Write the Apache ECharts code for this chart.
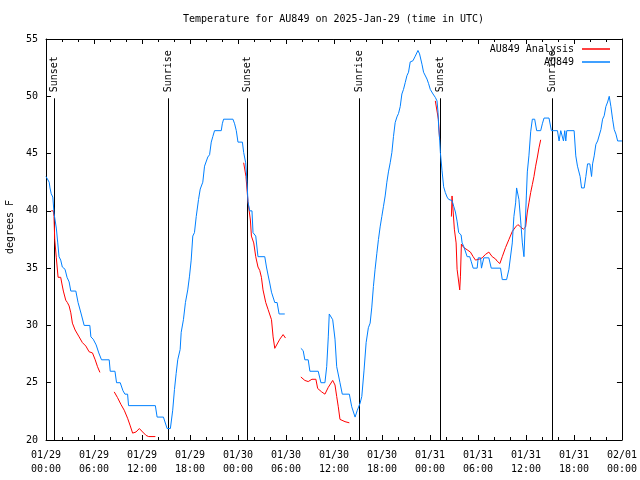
<!DOCTYPE html>
<html>
<head>
<meta charset="utf-8">
<script src="https://cdn.jsdelivr.net/npm/echarts@6/dist/echarts.min.js"></script>
<style>
html,body{margin:0;padding:0;background:#fff;}
#chart{width:640px;height:480px;}
</style>
</head>
<body>
<div id="chart"></div>
<script>
// ---- data (hours since 2025-01-29 00:00 UTC, degrees F) ----
const titleText = 'Temperature for AU849 on 2025-Jan-29 (time in UTC)';
const yAxisName = 'degrees F';
const seriesNames = ['AU849 Analysis', 'AU849'];

const sunHours = [1.05, 15.22, 25.13, 39.19, 49.2, 63.27];
const sunLabels = ['Sunset', 'Sunrise', 'Sunset', 'Sunrise', 'Sunset', 'Sunrise'];

const blueSeg1 = [
[0.0,43],[0.25,43],[0.4,42.5],[0.5,42],[0.65,41.5],[0.85,41.2],[0.92,40.6],[1.0,39.8],[1.13,39.7],[1.29,38.5],[1.47,37.2],[1.63,36],[1.84,35.7],[2.04,35.1],[2.38,34.9],[2.63,34.2],[2.89,33.8],[3.10,33],[3.73,33],[4.01,32],[4.4,31],[4.64,31],[4.77,30],[5.48,30],[5.61,29],[5.9,28.8],[6.27,28.3],[6.6,27.6],[6.94,27],[7.90,27],[8.03,26],[8.62,26],[8.82,25],[9.28,25],[9.62,24.3],[9.87,24],[10.20,24],[10.32,23],[13.67,23],[13.89,22],[14.68,22],[15.14,21],[15.55,21],[15.84,22.6],[16.06,24.4],[16.27,25.8],[16.47,27],[16.77,27.9],[16.9,29.4],[17.18,30.5],[17.43,32],[17.72,33.1],[17.94,34.3],[18.15,35.7],[18.35,37.8],[18.56,38.1],[18.78,39.5],[19.07,41],[19.28,41.9],[19.6,42.5],[19.82,43.9],[20.23,44.7],[20.45,44.9],[20.66,46],[20.86,46.5],[21.07,47],[21.91,47],[22.04,47.6],[22.2,48],[23.37,48],[23.58,47.6],[23.79,47],[24.0,46],[24.55,46],[24.71,45.1],[24.96,44.2],[25.13,42.5],[25.25,40.8],[25.46,40],[25.75,40],[25.88,38.1],[26.22,37.8],[26.5,36],[27.35,36],[27.56,35.1],[27.76,34.4],[27.97,33.7],[28.19,32.9],[28.6,32],[28.89,32],[29.14,31],[29.85,31]
];
const blueSeg2 = [
[31.86,28],[32.15,27.8],[32.36,27],[32.78,27],[32.99,26],[34.03,26],[34.37,25],[34.87,25],[35.09,26.4],[35.29,29],[35.41,31],[35.62,31],[35.84,30.5],[36.13,28.8],[36.34,26.4],[36.75,25],[37.04,24],[37.92,24],[38.22,22.9],[38.64,22],[38.92,22.6],[39.26,23.2],[39.48,23.8],[39.76,26.1],[40.02,28.5],[40.3,29.8],[40.52,30.2],[40.73,31.6],[40.93,33.4],[41.14,34.9],[41.36,36.3],[41.56,37.5],[41.77,38.6],[41.98,39.5],[42.19,40.4],[42.4,41.3],[42.61,42.5],[42.81,43.4],[43.03,44.2],[43.24,45.1],[43.44,46.5],[43.65,47.7],[43.87,48.2],[44.07,48.5],[44.28,49.1],[44.49,50.2],[44.69,50.6],[44.91,51.2],[45.12,51.8],[45.32,52.1],[45.53,53],[45.87,53.1],[46.16,53.5],[46.5,54],[46.7,53.7],[47.0,52.8],[47.2,52.1],[47.63,51.5],[47.83,51.1],[48.04,50.6],[48.38,50.2],[48.67,49.9],[48.88,49.6],[49.01,48.6],[49.08,47.4],[49.21,46.2],[49.3,45.1],[49.51,43.5],[49.71,42.1],[49.92,41.6],[50.14,41.2],[50.34,41],[50.76,40.9],[50.97,40.4],[51.18,39.9],[51.39,39.1],[51.59,38.1],[51.89,37.9],[52.02,37.2],[52.22,36.9],[52.65,36],[52.97,36],[53.15,35.6],[53.4,35],[53.9,35],[54.03,35.9],[54.32,35.9],[54.44,35],[54.73,35.9],[55.36,35.9],[55.66,35],[56.82,35],[57.04,34],[57.58,34],[57.87,34.9],[58.08,35],[58.29,37.2],[58.49,39.5],[58.71,40.7],[58.83,42],[59.0,42],[59.12,41],[59.33,39.2],[59.55,37.2],[59.75,36],[59.87,36],[60.05,41.3],[60.17,43.4],[60.37,44.8],[60.59,46.9],[60.8,48],[61.09,48],[61.34,47],[61.84,47],[62.05,47.6],[62.26,48.1],[62.88,48.1],[63.18,47],[63.94,47],[64.14,46.1],[64.35,47],[64.56,47],[64.69,46.1],[64.85,47],[64.98,46.1],[65.1,47],[66.02,47],[66.23,44.8],[66.44,43.9],[66.77,43],[66.95,42],[67.28,42],[67.49,43],[67.7,44.1],[67.99,44.1],[68.2,43],[68.33,44.1],[68.53,44.8],[68.74,45.8],[68.96,46.1],[69.2,46.1],[69.37,47.1],[69.58,48],[69.78,48.3],[69.99,49.1],[70.21,49.5],[70.41,50],[70.62,49.1],[70.83,48],[71.03,47.1],[71.25,46.7],[71.46,46.1],[72,46.1]
];

const redSeg1 = [[0.66,40],[0.92,40],[1.0,39.5],[1.09,37.5],[1.29,35.9],[1.51,34.2],[1.84,34.2],[1.97,33.7],[2.17,33],[2.47,32.2],[2.67,32],[2.89,31.7],[3.1,31.1],[3.3,30.2],[3.64,29.6],[4.14,29],[4.55,28.5],[4.98,28.2],[5.39,27.7],[5.81,27.6],[6.15,27],[6.44,26.4],[6.74,25.9]];
const redSeg2 = [[8.53,24.2],[8.94,23.7],[9.37,23.1],[9.78,22.6],[10.2,21.9],[10.5,21.3],[10.83,20.6],[11.25,20.7],[11.67,21],[12.08,20.7],[12.51,20.4],[12.83,20.3],[13.67,20.3]];
const redSeg3 = [[24.71,44.2],[24.85,44.1],[24.96,44.3],[25.0,43],[25.25,40.8],[25.55,39.2],[25.68,37.8],[25.97,37.2],[26.22,36],[26.5,35.1],[26.72,34.8],[26.93,34.2],[27.13,33.1],[27.47,32],[27.63,32],[27.76,31.4],[28.19,30.5],[28.39,29],[28.6,28],[28.72,28],[29.23,28.8],[29.64,29.2],[29.94,28.9]];
const redSeg4 = [[31.86,25.5],[32.36,25.2],[32.78,25.1],[33.24,25.3],[33.74,25.3],[33.96,24.5],[34.46,24.2],[34.87,24],[35.29,24.6],[35.84,25.2],[36.13,24.8],[36.34,23.8],[36.54,22.9],[36.75,21.8],[37.38,21.6],[37.92,21.5]];
const redSeg5 = [[48.67,49.6],[48.92,49.6],[49.05,48],[49.21,46.2]];
const redSeg6 = [[50.68,39.5],[50.76,41.3],[50.89,41.3],[51.05,38.4],[51.27,37.2],[51.39,34.9],[51.59,34.9],[51.72,33.1],[51.81,34.3],[51.93,37.1],[52.09,37.1],[52.22,36.8],[52.65,36.6],[53.06,36.4],[53.4,36],[53.69,35.7],[53.9,35.6],[54.23,35.8],[54.53,35.9],[54.94,36.2],[55.36,36.4],[55.57,36.5],[55.78,36],[56.2,35.8],[56.41,35.6],[56.74,35.4],[57.04,36],[57.45,36.8],[57.87,37.5],[58.29,38.2],[58.71,38.6],[58.99,38.8],[59.33,38.6],[59.67,38.4],[59.96,38.6],[60.17,39.9],[60.37,40.7],[60.59,41.6],[60.8,42.3],[61.0,43],[61.21,43.9],[61.43,44.7],[61.63,45.5],[61.84,46.2]];

// ---- helpers ----
function joinSegments(segs) {
  const out = [];
  segs.forEach((s, i) => {
    if (i > 0) out.push([(segs[i-1][segs[i-1].length-1][0] + s[0][0]) / 2, '-']);
    s.forEach(p => out.push(p));
  });
  return out;
}
const FONT = '"DejaVu Sans Mono", "Liberation Mono", monospace';
const baseMs = Date.UTC(2025, 0, 29, 0, 0);
function fmtHour(h) {
  const d = new Date(baseMs + h * 3600000);
  const p = n => String(n).padStart(2, '0');
  return p(d.getUTCMonth() + 1) + '/' + p(d.getUTCDate()) + '\n' + p(d.getUTCHours()) + ':' + p(d.getUTCMinutes());
}

const chart = echarts.init(document.getElementById('chart'), null, {renderer: 'canvas'});
const axisCommon = {
  axisLine: {show: true, onZero: false, lineStyle: {color: '#000', width: 1}},
  axisTick: {show: true, inside: true, length: 5, lineStyle: {color: '#000'}},
  splitLine: {show: false}
};
const option = {
  animation: false,
  backgroundColor: '#fff',
  title: {
    text: titleText, left: 183, top: 14, padding: 0,
    textStyle: {fontFamily: FONT, fontSize: 10, fontWeight: 'normal', color: '#000'}
  },
  legend: [
    {data: [seriesNames[0]], orient: 'vertical', right: 30, top: 44, padding: 0, align: 'right',
     icon: 'rect', itemWidth: 28, itemHeight: 1.5,
     textStyle: {fontFamily: FONT, fontSize: 10, color: '#000', padding: [0, 3, 0, 0]}},
    {data: [seriesNames[1]], orient: 'vertical', right: 30, top: 57, padding: 0, align: 'right',
     icon: 'rect', itemWidth: 28, itemHeight: 1.5,
     textStyle: {fontFamily: FONT, fontSize: 10, color: '#000', padding: [0, 3, 0, 0]}}
  ],
  grid: {left: 46, right: 18, top: 39, bottom: 40, containLabel: false},
  xAxis: [
    Object.assign({}, axisCommon, {
      type: 'value', min: 0, max: 72, interval: 6, position: 'bottom',
      minorTick: {show: true, splitNumber: 3, length: 3, lineStyle: {color: '#000'}},
      axisLabel: {formatter: fmtHour, margin: 8, color: '#000', fontFamily: FONT, fontSize: 10, lineHeight: 14}
    }),
    Object.assign({}, axisCommon, {
      type: 'value', min: 0, max: 72, interval: 6, position: 'top',
      minorTick: {show: true, splitNumber: 3, length: 3, lineStyle: {color: '#000'}},
      axisLabel: {show: false}
    })
  ],
  yAxis: [
    Object.assign({}, axisCommon, {
      type: 'value', min: 20, max: 55, interval: 5, position: 'left',
      axisLabel: {margin: 8, color: '#000', fontFamily: FONT, fontSize: 10}
    }),
    Object.assign({}, axisCommon, {
      type: 'value', min: 20, max: 55, interval: 5, position: 'right',
      axisLabel: {show: false}
    })
  ],
  graphic: [{
    type: 'text', x: 10, y: 227, rotation: Math.PI / 2,
    style: {text: yAxisName, fill: '#000', font: '10px ' + FONT, textAlign: 'center', textVerticalAlign: 'middle'}
  }],
  series: [
    {
      type: 'custom', name: 'sun', silent: true,
      data: sunHours.map(h => [h, 20]),
      renderItem: function (params, api) {
        const t = api.value(0);
        const b = api.coord([t, 20]);
        const top = api.coord([t, 50]);
        const x = Math.round(b[0]) + 0.5;
        const yTop = top[1] + 2;
        return {
          type: 'group',
          children: [
            {type: 'line', shape: {x1: x, y1: b[1], x2: x, y2: yTop}, style: {stroke: '#000', lineWidth: 1}},
            {type: 'text', x: x, y: yTop - 6, rotation: Math.PI / 2,
             style: {text: sunLabels[params.dataIndex], fill: '#000', font: '10px ' + FONT,
                     textAlign: 'left', textVerticalAlign: 'middle'}}
          ]
        };
      }
    },
    {
      type: 'line', name: seriesNames[0], data: joinSegments([redSeg1, redSeg2, redSeg3, redSeg4, redSeg5, redSeg6]),
      showSymbol: false, symbol: 'none', connectNulls: false,
      lineStyle: {color: '#ff0000', width: 1}, itemStyle: {color: '#ff0000'}
    },
    {
      type: 'line', name: seriesNames[1], data: joinSegments([blueSeg1, blueSeg2]),
      showSymbol: false, symbol: 'none', connectNulls: false,
      lineStyle: {color: '#0080ff', width: 1}, itemStyle: {color: '#0080ff'}
    }
  ]
};
chart.setOption(option);
</script>
</body>
</html>
